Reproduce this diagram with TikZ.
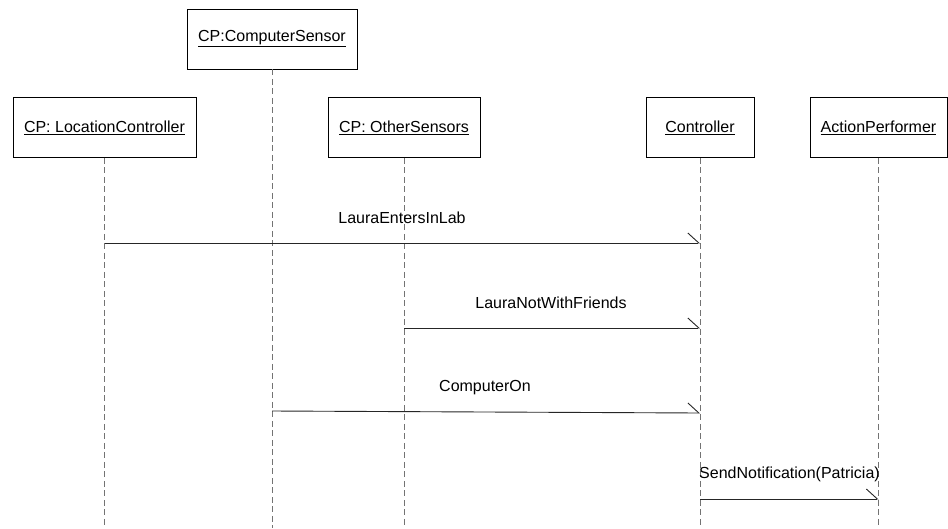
\documentclass[tikz,border=0pt]{standalone}
\usepackage{fontspec}
\setmainfont{Liberation Sans}
\usetikzlibrary{arrows.meta}
\begin{document}
\begin{tikzpicture}[x=1pt,y=-1pt,
  objbox/.style={draw=black,line width=0.9pt,minimum height=60pt,inner sep=0pt,
    font=\fontsize{16}{19}\selectfont},
  lifeline/.style={draw=black!55,line width=0.9pt,dash pattern=on 6pt off 3.5pt},
  msg/.style={draw=black!85,line width=0.9pt,
    -{Straight Barb[left,length=11pt,width=20pt,line width=0.9pt]}},
  msglabel/.style={font=\fontsize{16}{19}\selectfont,inner sep=0pt}]
\useasboundingbox (0,0) rectangle (948,528);

% participants
\node[objbox,minimum width=170pt] (cs) at (272,39) {\underline{CP:ComputerSensor}};
\node[objbox,minimum width=183pt] (lc) at (104.5,127.5) {\underline{CP: LocationController}};
\node[objbox,minimum width=152pt] (os) at (404,127.5) {\underline{CP: OtherSensors}};
\node[objbox,minimum width=108pt] (ct) at (700,127.5) {\underline{Controller}};
\node[objbox,minimum width=137pt] (ap) at (878.5,127.5) {\underline{ActionPerformer}};

% lifeline ends
\coordinate (lcEnd) at (lc.south |- 0,528);
\coordinate (csEnd) at (cs.south |- 0,528);
\coordinate (osEnd) at (os.south |- 0,528);
\coordinate (ctEnd) at (ct.south |- 0,528);
\coordinate (apEnd) at (ap.south |- 0,528);

\draw[lifeline] (lc.south) -- (lcEnd);
\draw[lifeline] (cs.south) -- (csEnd);
\draw[lifeline] (os.south) -- (osEnd);
\draw[lifeline] (ct.south) -- (ctEnd);
\draw[lifeline] (ap.south) -- (apEnd);

% message anchors on the lifelines
\coordinate (m1a) at (lc.south |- 0,243);
\coordinate (m1b) at (ct.south |- 0,243);
\coordinate (m2a) at (os.south |- 0,328);
\coordinate (m2b) at (ct.south |- 0,328);
\coordinate (m3a) at (cs.south |- 0,411);
\coordinate (m3b) at (ct.south |- 0,413);
\coordinate (m4a) at (ct.south |- 0,499);
\coordinate (m4b) at (ap.south |- 0,499);

% messages
\draw[msg] (m1a) -- (m1b);
\draw[msg] (m2a) -- (m2b);
\draw[msg] (m3a) -- (m3b);
\draw[msg] (m4a) -- (m4b);

\node[msglabel] (l1) at (402,218) {LauraEntersInLab};
\node[msglabel] (l2) at (551,303) {LauraNotWithFriends};
\node[msglabel] (l3) at (485,388) {ComputerOn};
\node[msglabel] (l4) at (789.5,474) {SendNotification(Patricia)};
\end{tikzpicture}
\end{document}
